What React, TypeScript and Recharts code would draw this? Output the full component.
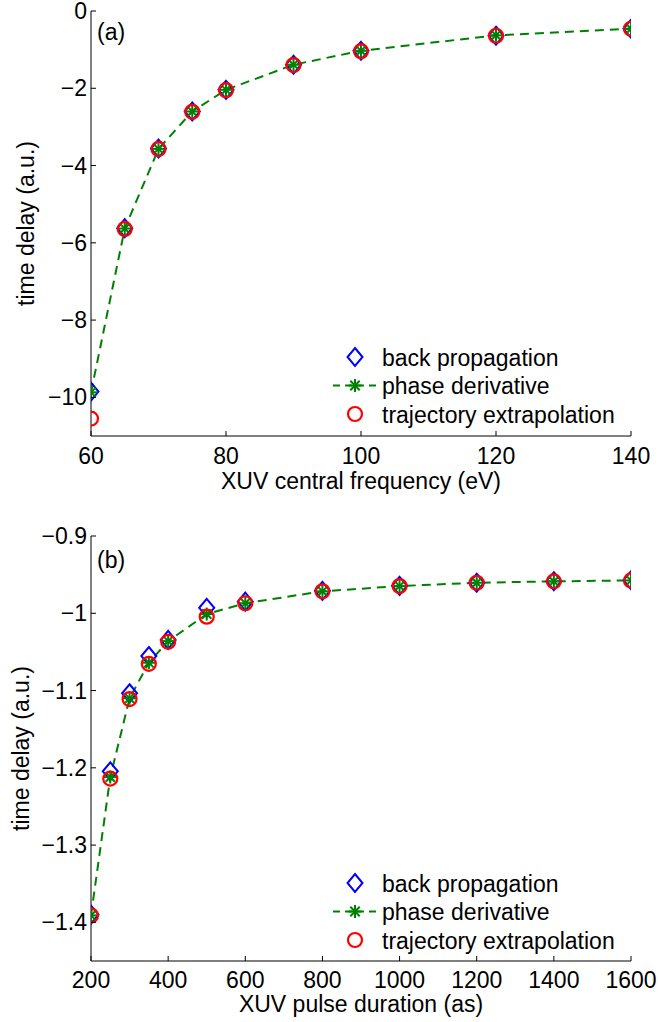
import React from "react";
import { ComposedChart, Customized, Label, Legend, Line, XAxis, YAxis } from "recharts";

// panel (a): delay vs XUV central frequency
const freq = [60, 65, 70, 75, 80, 90, 100, 120, 140];
const freqBack = [-9.85, -5.62, -3.56, -2.6, -2.04, -1.39, -1.03, -0.64, -0.46];
const freqPhase = [-9.87, -5.63, -3.57, -2.6, -2.04, -1.39, -1.03, -0.63, -0.46];
const freqTraj = [-10.55, -5.64, -3.57, -2.61, -2.05, -1.4, -1.04, -0.64, -0.46];
const freqTicks = [60, 80, 100, 120, 140];
const delayTicksA = [-10, -8, -6, -4, -2, 0];

// panel (b): delay vs XUV pulse duration
const duration = [200, 250, 300, 350, 400, 500, 600, 800, 1000, 1200, 1400, 1600];
const durBack = [-1.39, -1.2045, -1.1035, -1.0553, -1.0345, -0.993, -0.985, -0.971, -0.9645, -0.9605, -0.9585, -0.9572];
const durPhase = [-1.391, -1.212, -1.11, -1.064, -1.036, -1.001, -0.987, -0.9716, -0.9648, -0.9605, -0.9587, -0.9575];
const durTraj = [-1.391, -1.214, -1.111, -1.0654, -1.037, -1.0044, -0.987, -0.9716, -0.9648, -0.9605, -0.9587, -0.9575];
const durTicks = [200, 400, 600, 800, 1000, 1200, 1400, 1600];
const delayTicksB = [-1.4, -1.3, -1.2, -1.1, -1, -0.9];

const legendNames = ["back propagation", "phase derivative", "trajectory extrapolation"];

const FONT = "'Liberation Sans', Arial, Helvetica, sans-serif";
const FS = 23;
const BLUE = "#0000ff";
const GREEN = "#008000";
const RED = "#ff0000";
const TICK_LEN = 5;
const Y_TICK_GAP = 4;

const fmt = (v: number) => (v < 0 ? "\u2212" + String(Math.abs(v)) : String(v));

function diamondPath(cx: number, cy: number) {
  return `M${cx},${cy - 9} L${cx + 7.5},${cy} L${cx},${cy + 9} L${cx - 7.5},${cy} Z`;
}

function Star({ cx, cy }: { cx: number; cy: number }) {
  const r = 6.5;
  const d = r * 0.72;
  return (
    <g stroke={GREEN} strokeWidth={2}>
      <line x1={cx - r} y1={cy} x2={cx + r} y2={cy} />
      <line x1={cx} y1={cy - r} x2={cx} y2={cy + r} />
      <line x1={cx - d} y1={cy - d} x2={cx + d} y2={cy + d} />
      <line x1={cx - d} y1={cy + d} x2={cx + d} y2={cy - d} />
    </g>
  );
}

const renderDiamond = (p: any) =>
  p.cx == null ? null : (
    <path key={`bd-${p.index}`} d={diamondPath(p.cx, p.cy)} fill="none" stroke={BLUE} strokeWidth={2} />
  );
const renderStar = (p: any) => (p.cx == null ? null : <Star key={`ps-${p.index}`} cx={p.cx} cy={p.cy} />);
const renderCircle = (p: any) =>
  p.cx == null ? null : (
    <circle key={`tc-${p.index}`} cx={p.cx} cy={p.cy} r={7} fill="none" stroke={RED} strokeWidth={2.2} />
  );

// tick renderers: label plus an inward tick mark
const bottomTick = (margin: number) => (p: any) => (
  <g>
    <line x1={p.x} y1={p.y - margin} x2={p.x} y2={p.y - margin - TICK_LEN} stroke="#000" />
    <text x={p.x} y={p.y + 16} textAnchor="middle" fontSize={FS} fill="#000" style={{ fontFamily: FONT }}>
      {fmt(p.payload.value)}
    </text>
  </g>
);
const leftTick = (p: any) => (
  <g>
    <line x1={p.x + Y_TICK_GAP} y1={p.y} x2={p.x + Y_TICK_GAP + TICK_LEN} y2={p.y} stroke="#000" />
    <text x={p.x} y={p.y + 8} textAnchor="end" fontSize={FS} fill="#000" style={{ fontFamily: FONT }}>
      {fmt(p.payload.value)}
    </text>
  </g>
);
const topTick = (p: any) => <line x1={p.x} y1={p.y} x2={p.x} y2={p.y + TICK_LEN} stroke="#000" />;
const rightTick = (p: any) => <line x1={p.x} y1={p.y} x2={p.x - TICK_LEN} y2={p.y} stroke="#000" />;

function LegendBox() {
  const rows = [14, 42.5, 71];
  return (
    <svg width={300} height={90} style={{ display: "block", overflow: "visible" }}>
      <path d={diamondPath(25, rows[0])} fill="none" stroke={BLUE} strokeWidth={2} />
      <line x1={3} y1={rows[1]} x2={47} y2={rows[1]} stroke={GREEN} strokeWidth={2} strokeDasharray="7 5" />
      <Star cx={25} cy={rows[1]} />
      <circle cx={25} cy={rows[2]} r={7} fill="none" stroke={RED} strokeWidth={2.2} />
      {legendNames.map((name, i) => (
        <text key={name} x={52} y={rows[i] + 8.5} fontSize={FS} fill="#000">
          {name}
        </text>
      ))}
    </svg>
  );
}

type PanelProps = {
  xs: number[];
  back: number[];
  phase: number[];
  traj: number[];
  xDomain: [number, number];
  yDomain: [number, number];
  xTicks: number[];
  yTicks: number[];
  xLabel: string;
  tag: string;
  height: number;
  top: number;
  xAxisHeight: number;
  xTickMargin: number;
  xLabelOffset: number;
  yLabelOffset: number;
  legendTop: number;
  tagY: number;
};

function Panel(props: PanelProps) {
  const data = props.xs.map((x, i) => ({
    x,
    back: props.back[i],
    phase: props.phase[i],
    traj: props.traj[i],
  }));
  const axisStroke = { stroke: "#000", strokeWidth: 1 };
  return (
    <ComposedChart
      width={658}
      height={props.height}
      data={data}
      margin={{ top: props.top, right: 27, bottom: 0, left: 20 }}
    >
      <XAxis
        dataKey="x"
        type="number"
        domain={props.xDomain}
        ticks={props.xTicks}
        allowDataOverflow
        height={props.xAxisHeight}
        tickSize={0}
        tickMargin={props.xTickMargin}
        tick={bottomTick(props.xTickMargin)}
        axisLine={axisStroke}
        tickLine={false}
      >
        <Label
          value={props.xLabel}
          position="insideBottom"
          offset={props.xLabelOffset}
          style={{ fill: "#000", fontSize: FS, fontFamily: FONT }}
        />
      </XAxis>
      <XAxis
        xAxisId="top"
        orientation="top"
        type="number"
        domain={props.xDomain}
        ticks={props.xTicks}
        allowDataOverflow
        height={0}
        tickSize={0}
        tickMargin={0}
        tick={topTick}
        axisLine={axisStroke}
        tickLine={false}
      />
      <YAxis
        type="number"
        domain={props.yDomain}
        ticks={props.yTicks}
        allowDataOverflow
        width={71}
        tickSize={0}
        tickMargin={Y_TICK_GAP}
        tick={leftTick}
        axisLine={axisStroke}
        tickLine={false}
      >
        <Label
          value="time delay (a.u.)"
          position="insideLeft"
          angle={-90}
          offset={props.yLabelOffset}
          style={{ fill: "#000", fontSize: FS, fontFamily: FONT, textAnchor: "middle" }}
        />
      </YAxis>
      <YAxis
        yAxisId="right"
        orientation="right"
        type="number"
        domain={props.yDomain}
        ticks={props.yTicks}
        allowDataOverflow
        width={0}
        tickSize={0}
        tickMargin={0}
        tick={rightTick}
        axisLine={axisStroke}
        tickLine={false}
      />
      <Line
        dataKey="back"
        type="linear"
        stroke="none"
        dot={renderDiamond}
        activeDot={false}
        isAnimationActive={false}
      />
      <Line
        dataKey="phase"
        type="linear"
        stroke={GREEN}
        strokeWidth={2}
        strokeDasharray="9 6"
        dot={renderStar}
        activeDot={false}
        isAnimationActive={false}
      />
      <Line
        dataKey="traj"
        type="linear"
        stroke="none"
        dot={renderCircle}
        activeDot={false}
        isAnimationActive={false}
      />
      <Legend
        layout="vertical"
        align="center"
        verticalAlign="middle"
        content={() => <LegendBox />}
        wrapperStyle={{ position: "absolute", left: 330, top: props.legendTop, width: 300, height: 90 }}
      />
      <Customized
        component={() => (
          <text x={97} y={props.tagY} fontSize={FS} fill="#000" style={{ fontFamily: FONT }}>
            {props.tag}
          </text>
        )}
      />
    </ComposedChart>
  );
}

export default function App() {
  return (
    <div
      style={{
        position: "absolute",
        left: 0,
        top: 0,
        width: 658,
        height: 1022,
        background: "#fff",
        fontFamily: FONT,
      }}
    >
      <Panel
        xs={freq}
        back={freqBack}
        phase={freqPhase}
        traj={freqTraj}
        xDomain={[60, 140]}
        yDomain={[-11, 0]}
        xTicks={freqTicks}
        yTicks={delayTicksA}
        xLabel="XUV central frequency (eV)"
        tag="(a)"
        height={520}
        top={11}
        xAxisHeight={84}
        xTickMargin={12}
        xLabelOffset={31}
        yLabelOffset={6}
        legendTop={343}
        tagY={40}
      />
      <Panel
        xs={duration}
        back={durBack}
        phase={durPhase}
        traj={durTraj}
        xDomain={[200, 1600]}
        yDomain={[-1.45, -0.9]}
        xTicks={durTicks}
        yTicks={delayTicksB}
        xLabel="XUV pulse duration (as)"
        tag="(b)"
        height={502}
        top={16}
        xAxisHeight={61}
        xTickMargin={11}
        xLabelOffset={10}
        yLabelOffset={1}
        legendTop={349}
        tagY={48}
      />
    </div>
  );
}
